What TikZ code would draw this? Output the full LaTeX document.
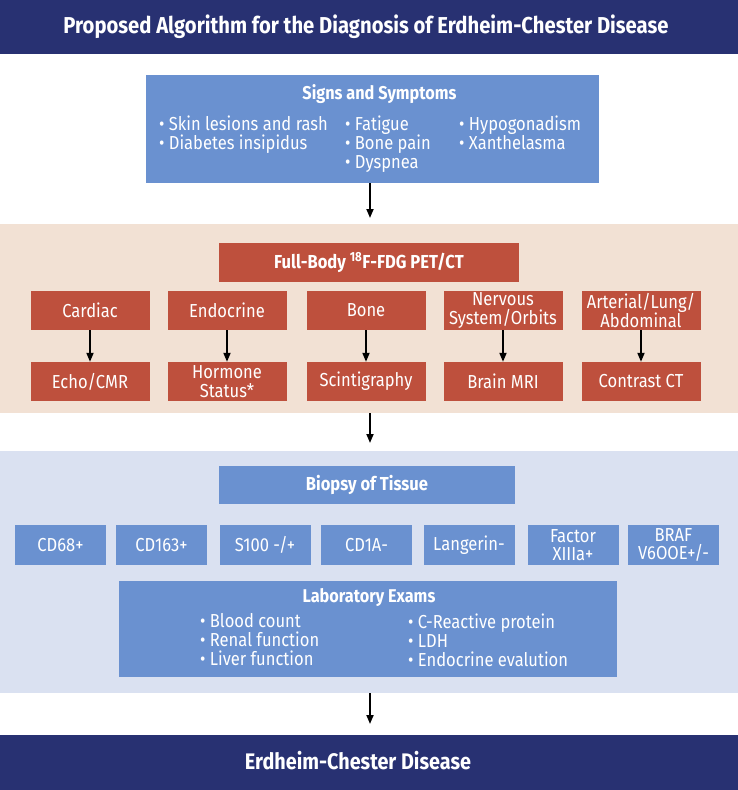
\documentclass[tikz,border=0pt]{standalone}
\usepackage{fontspec}
\setmainfont{Fira Sans}[FakeStretch=0.88]
\usetikzlibrary{arrows.meta}
\definecolor{navy}{HTML}{283172}
\definecolor{bluebox}{HTML}{6A91D0}
\definecolor{redbox}{HTML}{BE503D}
\definecolor{peach}{HTML}{F2E1D4}
\definecolor{bluegray}{HTML}{DAE1F1}
\tikzset{
  band/.style={fill=#1, draw=none, inner sep=0pt, minimum width=738pt},
  bbox/.style={fill=bluebox, draw=none, text=white, inner sep=1pt, align=center, font=\fontsize{18.8}{18}\selectfont},
  rbox/.style={fill=redbox, draw=none, text=white, inner sep=1pt, align=center, minimum width=119pt, minimum height=39pt, font=\fontsize{18.8}{18.5}\selectfont},
  tbox/.style={bbox, minimum width=91pt, minimum height=40pt},
  hdr/.style={text=white, anchor=base, inner sep=0pt, font=\fontsize{18.5}{20}\selectfont\bfseries},
  lst/.style={text=white, anchor=north west, inner sep=0pt, align=left, font=\fontsize{18.8}{19}\selectfont},
  arr/.style={line width=1.8pt, -{Triangle[length=9pt,width=7pt]}},
}
\begin{document}
\begin{tikzpicture}[x=1pt,y=-1pt]
\useasboundingbox (0,0) rectangle (738,790);
% bands
\node[band=navy, minimum height=54pt] (topband) at (369,27) {};
\node[text=white, anchor=base, inner sep=0pt, font=\fontsize{23}{24}\selectfont\bfseries] (title) at (366,33) {Proposed Algorithm for the Diagnosis of Erdheim-Chester Disease};
\node[band=peach, minimum height=189pt] (petband) at (369,318.5) {};
\node[band=bluegray, minimum height=242pt] (labband) at (369,572) {};
\node[band=navy, minimum height=55pt] (botband) at (369,762.5) {};
\node[text=white, anchor=base, inner sep=0pt, font=\fontsize{22.5}{24}\selectfont\bfseries] (ecd) at (358,769) {Erdheim-Chester Disease};
% signs and symptoms
\node[bbox, minimum width=453pt, minimum height=108pt] (signs) at (372.5,129) {};
\node[hdr] (signshdr) at (379.5,99) {Signs and Symptoms};
\node[lst] (s1) at (159,116) {• Skin lesions and rash\\• Diabetes insipidus};
\node[lst] (s2) at (345,116) {• Fatigue\\• Bone pain\\• Dyspnea};
\node[lst] (s3) at (459,116) {• Hypogonadism\\• Xanthelasma};
% PET/CT
\node[rbox, minimum width=300pt, minimum height=39pt, font=\fontsize{18.8}{18}\selectfont\bfseries] (pet) at (369,262.5) {Full-Body \textsuperscript{18}F-FDG PET/CT};
\node[rbox] (cardiac) at (90,310.5) {Cardiac};
\node[rbox] (endo) at (227,310.5) {Endocrine};
\node[rbox] (bone) at (366,310.5) {Bone};
\node[rbox] (nerv) at (503,310.5) {Nervous\\System/Orbits};
\node[rbox] (art) at (641,310.5) {Arterial/Lung/\\Abdominal};
\node[rbox] (echo) at (90,381.5) {Echo/CMR};
\node[rbox] (horm) at (227,381.5) {Hormone\\Status*};
\node[rbox] (scint) at (366,381.5) {Scintigraphy};
\node[rbox] (mri) at (503,381.5) {Brain MRI};
\node[rbox] (ct) at (641,381.5) {Contrast CT};
\foreach \a/\b in {cardiac/echo, endo/horm, bone/scint, nerv/mri, art/ct}
  \draw[arr] (\a.south) -- (\b.north);
% biopsy
\node[bbox, minimum width=296pt, minimum height=38pt, font=\fontsize{18.8}{18}\selectfont\bfseries] (biopsy) at (367,485) {Biopsy of Tissue};
\node[tbox] (cd68) at (60.5,545) {CD68+};
\node[tbox] (cd163) at (161.5,545) {CD163+};
\node[tbox] (s100) at (265,545) {S100 -/+};
\node[tbox] (cd1a) at (366.5,545) {CD1A-};
\node[tbox] (lang) at (469,545) {Langerin-};
\node[tbox] (fac) at (573,545) {Factor\\XIIIa+};
\node[tbox] (braf) at (673.5,545) {BRAF\\V6OOE+/-};
% lab exams
\node[bbox, minimum width=498pt, minimum height=96pt] (lab) at (368,629) {};
\node[hdr] (labhdr) at (369,602) {Laboratory Exams};
\node[lst] (l1) at (200,613) {• Blood count\\• Renal function\\• Liver function};
\node[lst] (l2) at (408,613.5) {• C-Reactive protein\\• LDH\\• Endocrine evalution};
% arrows
\draw[arr, shorten >=6pt] (signs.south -| 370,0) -- (370,224);
\draw[arr, shorten >=8pt] (petband.south -| 370,0) -- (370,451);
\draw[arr, shorten >=11pt] (labband.south -| 370,0) -- (370,735);
\end{tikzpicture}
\end{document}
